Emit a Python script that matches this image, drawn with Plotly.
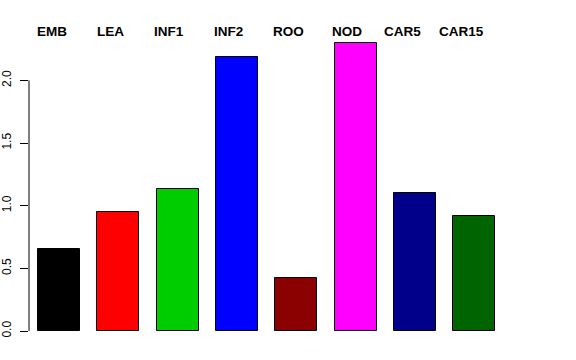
import plotly.graph_objects as go

categories = ["EMB", "LEA", "INF1", "INF2", "ROO", "NOD", "CAR5", "CAR15"]
values = [0.655, 0.948, 1.135, 2.183, 0.42, 2.295, 1.105, 0.917]
colors = ["#000000", "#FF0000", "#00CD00", "#0000FF", "#8B0000", "#FF00FF", "#00008B", "#006400"]
ytick_vals = [0.0, 0.5, 1.0, 1.5, 2.0]
ytick_text = ["0.0", "0.5", "1.0", "1.5", "2.0"]

# horizontal pixel offsets of the top labels relative to their bars (style)
label_shift = [-7, -8, -9, -8, -8, -9, -12, -13]

xpos = list(range(len(categories)))

fig = go.Figure()
fig.add_trace(go.Bar(
    x=xpos, y=values, width=0.708,
    marker=dict(color=colors, line=dict(color="#000000", width=1)),
    hoverinfo="skip", cliponaxis=False,
))

for xi, lab, sh in zip(xpos, categories, label_shift):
    fig.add_annotation(x=xi, y=2.39, xref="x", yref="y", text="<b>%s</b>" % lab,
                       showarrow=False, font=dict(family="Liberation Sans", size=13.5, color="#000000"),
                       xanchor="center", yanchor="middle", xshift=sh)

# R-style y axis line from 0 to 2
fig.add_shape(type="line", xref="paper", yref="y", x0=0, x1=0, y0=0, y1=2.0,
              line=dict(color="#000000", width=1))

fig.update_layout(
    width=576, height=360,
    margin=dict(l=29, r=36, t=24, b=29),
    paper_bgcolor="white", plot_bgcolor="white",
    showlegend=False,
    bargap=0,
    xaxis=dict(range=[-0.506, 8.11], visible=False, showgrid=False, zeroline=False, automargin=False),
    yaxis=dict(range=[0, 2.45], tickvals=ytick_vals, ticktext=ytick_text,
               ticks="outside", ticklen=8, tickwidth=1, tickcolor="#000000",
               tickangle=-90, showgrid=False, zeroline=False, showline=False, automargin=False,
               ticklabelstandoff=4,
               tickfont=dict(family="Liberation Sans", size=12, color="#000000")),
)

fig.write_html("out.html", config={"displayModeBar": False},
               post_script="document.body.style.margin='0';")
